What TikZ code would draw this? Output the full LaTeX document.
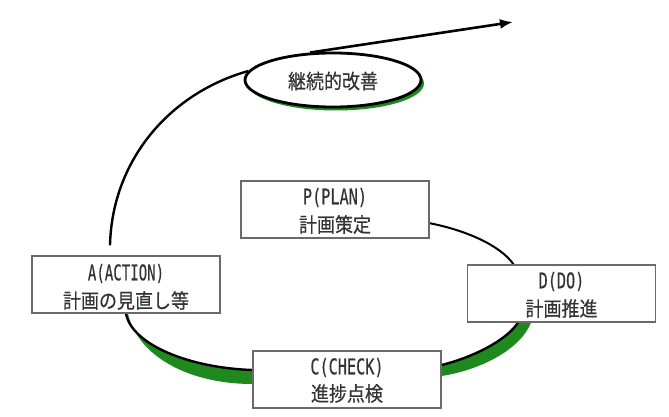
\documentclass[tikz,border=0pt]{standalone}
\usepackage{graphicx}
\usepackage{fontspec}
\newfontfamily\jpfont[FakeBold=0.5]{Noto Sans CJK JP}
\newfontfamily\monofont[FakeBold=0.4]{DejaVu Sans Mono}
\usetikzlibrary{shapes.geometric,calc,arrows.meta,backgrounds}
\definecolor{txt}{HTML}{333333}
\definecolor{boxline}{HTML}{6A6A6A}
\definecolor{band}{HTML}{1E8A1E}
\begin{document}
\begin{tikzpicture}[x=1pt,y=-1pt,
  stagebox/.style={draw=boxline,line width=1.4pt,fill=white,minimum width=188pt,minimum height=57pt,inner sep=0pt},
  latinline/.style={text=txt,font=\monofont\fontsize{16}{16}\selectfont,inner sep=0pt},
  kanjiline/.style={text=txt,font=\jpfont\fontsize{18}{18}\selectfont,inner sep=0pt},
  curve/.style={line width=2.4pt,black},
  thincurve/.style={line width=2pt,black},
  ellbox/.style={ellipse,minimum width=176pt,minimum height=54pt,inner sep=0pt},
]
\useasboundingbox (0,0) rectangle (669,417);

% boxes
\node[stagebox] (P) at (335,209.5) {};
\node[stagebox] (A) at (126,284.5) {};
\node[stagebox] (D) at (561.5,293.5) {};
\node[stagebox] (C) at (347,379.5) {};

\node[latinline] (Pl) at ($(P.center)+(0,-12)$) {\scalebox{0.95}[1.35]{P(PLAN)}};
\node[kanjiline] (Pk) at ($(P.center)+(0,15)$) {\scalebox{1}[1.12]{計画策定}};
\node[latinline] (Al) at ($(A.center)+(0,-11)$) {\scalebox{0.88}[1.35]{A(ACTION)}};
\node[kanjiline] (Ak) at ($(A.center)+(0,16)$) {\scalebox{1}[1.12]{計画の見直し等}};
\node[latinline] (Dl) at ($(D.center)+(0,-12)$) {\scalebox{0.95}[1.35]{D(DO)}};
\node[kanjiline] (Dk) at ($(D.center)+(0,15)$) {\scalebox{1}[1.12]{計画推進}};
\node[latinline] (Cl) at ($(C.center)+(0,-12)$) {\scalebox{0.95}[1.35]{C(CHECK)}};
\node[kanjiline] (Ck) at ($(C.center)+(0,14)$) {\scalebox{1}[1.12]{進捗点検}};

% ellipse with green shadow
\node[ellbox,fill=band] (ellshadow) at (336,83.5) {};
\node[ellbox,draw=black,line width=2.8pt,fill=white] (ell) at (333,80) {};
\node[kanjiline] (ellk) at (333,81) {\scalebox{1}[1.12]{継続的改善}};

% arrow out of the ellipse
\coordinate (tip) at (513,22);
\draw[curve,line width=2.6pt,-{Latex[length=13pt,width=10pt]}] (ell.130) -- (tip);

% A -> ellipse
\draw[curve] ($(A.north)+(-16,-10)$) .. controls (112,160) and (170,93) .. (ell.174);

\begin{scope}[on background layer]
% P -> D thin curve
\draw[thincurve] ($(P.east)+(-1,13.5)$) .. controls (465,230) and (500,245) .. ($(D.north)+(-48,0)$);
% C -> A green band
\fill[band] (A.south) .. controls (132,345) and (190,368) .. ($(C.west)+(0,-9.5)$)
  -- ($(C.west)+(0,4.5)$) .. controls (190,384) and (138,357) .. ($(A.south)+(2,0)$) -- cycle;
\draw[curve] (A.south) .. controls (132,345) and (190,368) .. ($(C.west)+(0,-9.5)$);
% D -> C green band
\fill[band] ($(D.south)+(-43.5,0)$) .. controls (505,342) and (470,358) .. ($(C.east)+(0,-14.5)$)
  -- ($(C.east)+(0,-3.5)$) .. controls (480,370) and (520,350) .. ($(D.south)+(-30.5,0)$) -- cycle;
\draw[curve] ($(D.south)+(-43.5,0)$) .. controls (505,342) and (470,358) .. ($(C.east)+(0,-14.5)$);
\end{scope}
\end{tikzpicture}
\end{document}
